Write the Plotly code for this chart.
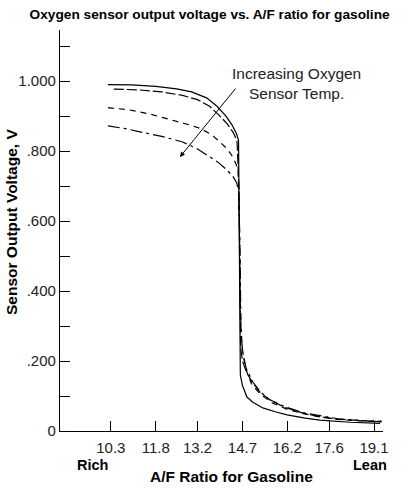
import plotly.graph_objects as go

FONT = "Liberation Sans, Arial, sans-serif"

# x tick labels (A/F ratio)
x_ticks = [10.3, 11.8, 13.2, 14.7, 16.2, 17.6, 19.1]
y_ticks = [0, 0.1, 0.2, 0.3, 0.4, 0.5, 0.6, 0.7, 0.8, 0.9, 1.0, 1.1]
y_ticktext = ["0", "", ".200", "", ".400", "", ".600", "", ".800", "", "1.000", ""]

# curve 1 (solid, coolest)
x1 = [10.2, 11.0, 11.8, 12.5, 13.0, 13.5, 13.85, 14.15, 14.35, 14.5, 14.57, 14.59, 14.61, 14.63, 14.7, 14.85, 15.05, 15.38, 15.8, 16.19, 16.8, 17.29, 18.3, 19.3]
y1 = [0.990, 0.989, 0.985, 0.978, 0.969, 0.952, 0.928, 0.900, 0.875, 0.850, 0.830, 0.600, 0.350, 0.160, 0.130, 0.097, 0.082, 0.066, 0.055, 0.046, 0.037, 0.031, 0.025, 0.022]

# curve 2 (long dash)
x2 = [10.4, 11.2, 12.0, 12.7, 13.2, 13.6, 13.9, 14.2, 14.4, 14.52, 14.58, 14.61, 14.64, 14.7, 14.85, 15.05, 15.3, 15.62, 16.1, 16.72, 17.3, 17.86, 18.6, 19.35]
y2 = [0.977, 0.975, 0.969, 0.959, 0.947, 0.928, 0.904, 0.877, 0.852, 0.828, 0.700, 0.450, 0.240, 0.200, 0.165, 0.137, 0.110, 0.089, 0.068, 0.051, 0.041, 0.034, 0.030, 0.026]

# curve 3 (short dash)
x3 = [10.2, 10.9, 11.6, 12.4, 13.0, 13.28, 13.65, 13.95, 14.2, 14.38, 14.5, 14.56, 14.6, 14.63, 14.67, 14.8, 15.0, 15.3, 15.7, 16.2, 16.7, 17.3, 17.9, 18.6, 19.35]
y3 = [0.924, 0.918, 0.906, 0.888, 0.873, 0.865, 0.848, 0.826, 0.805, 0.783, 0.760, 0.740, 0.600, 0.350, 0.250, 0.180, 0.135, 0.105, 0.080, 0.062, 0.050, 0.040, 0.033, 0.029, 0.027]

# curve 4 (dash-dot, hottest)
x4 = [10.2, 10.8, 11.27, 12.0, 12.7, 13.2, 13.6, 13.9, 14.18, 14.38, 14.51, 14.58, 14.62, 14.65, 14.7, 14.82, 15.05, 15.3, 15.6, 16.1, 16.7, 17.3, 17.9, 18.6, 19.35]
y4 = [0.872, 0.864, 0.855, 0.842, 0.826, 0.806, 0.784, 0.767, 0.746, 0.728, 0.709, 0.680, 0.500, 0.300, 0.230, 0.180, 0.140, 0.112, 0.090, 0.070, 0.053, 0.043, 0.035, 0.030, 0.028]

series = [
    (x1, y1, "solid"),
    (x2, y2, "10px,3px"),
    (x3, y3, "6px,5px"),
    (x4, y4, "12px,4px,3px,4px"),
]

fig = go.Figure()
for xs, ys, dash in series:
    fig.add_trace(go.Scatter(x=xs, y=ys, mode="lines",
                             line=dict(color="black", width=1.2, dash=dash),
                             showlegend=False, hoverinfo="skip"))

fig.update_layout(
    width=411, height=496,
    margin=dict(l=60, r=28, t=30, b=65),
    paper_bgcolor="white", plot_bgcolor="white",
    font=dict(family=FONT, color="black", size=15),
    title=dict(text="<b>Oxygen sensor output voltage vs. A/F ratio for gasoline</b>",
               x=0.51, xanchor="center", y=0.972, yanchor="middle",
               font=dict(size=13.7, family=FONT, color="black")),
)
fig.update_xaxes(range=[8.6, 19.4], showgrid=False, zeroline=False,
                 showline=True, linecolor="black", linewidth=1.2,
                 ticks="inside", ticklen=10, tickcolor="black", tickwidth=1,
                 tickvals=x_ticks, ticktext=[str(v) for v in x_ticks],
                 tickfont=dict(size=15, color="#222"), ticklabelstandoff=3)
fig.update_yaxes(range=[0, 1.146], showgrid=False, zeroline=False,
                 showline=True, linecolor="black", linewidth=1.2,
                 ticks="inside", ticklen=10, tickcolor="black", tickwidth=1,
                 tickvals=y_ticks, ticktext=y_ticktext,
                 tickfont=dict(size=15, color="#222"))

# arrow
fig.add_annotation(x=12.61, y=0.783, ax=14.51, ay=0.983, xref="x", yref="y",
                   axref="x", ayref="y", showarrow=True, arrowhead=2,
                   arrowsize=1, arrowwidth=1, arrowcolor="black", text="")
fig.add_annotation(x=16.5, y=0.994, xref="x", yref="y", showarrow=False,
                   text="Increasing Oxygen<br>Sensor Temp.",
                   font=dict(size=15.5, color="#222"), align="center")

# axis titles and labels
fig.add_annotation(x=9.7, y=-34 / 401, xref="x", yref="paper", showarrow=False,
                   text="<b>Rich</b>", font=dict(size=14.5), yanchor="middle")
fig.add_annotation(x=18.96, y=-34 / 401, xref="x", yref="paper", showarrow=False,
                   text="<b>Lean</b>", font=dict(size=14.5), yanchor="middle")
fig.add_annotation(x=(231 - 60) / 323, y=-45 / 401, xref="paper", yref="paper",
                   showarrow=False, text="<b>A/F Ratio for Gasoline</b>",
                   font=dict(size=15.5), yanchor="middle")
fig.add_annotation(x=-(60 - 11) / 323, y=(431 - 222) / 401, xref="paper", yref="paper",
                   showarrow=False, text="<b>Sensor Output Voltage, V</b>",
                   textangle=-90, font=dict(size=15.5), xanchor="center", yanchor="middle")

fig.write_html("out.html")
